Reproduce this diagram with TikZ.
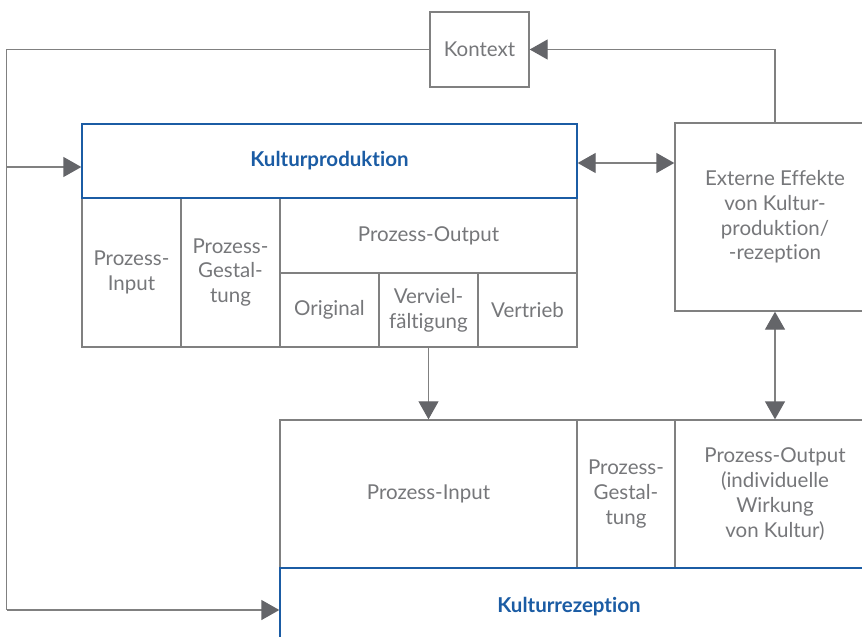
\documentclass[tikz,border=0pt]{standalone}
\usepackage{fontspec}
\setmainfont{Lato}[Ligatures={NoCommon}]
\usetikzlibrary{arrows.meta}
\definecolor{txtgrey}{HTML}{76777A}
\definecolor{linegrey}{HTML}{808080}
\definecolor{tipgrey}{HTML}{646569}
\definecolor{kblue}{HTML}{1B5CA4}
\begin{document}
\begin{tikzpicture}[x=1pt,y=-1pt,
  cell/.style={draw=linegrey, line width=1.4pt, rectangle, inner sep=0pt, align=center,
    text=txtgrey, font=\fontsize{20.5}{24.8}\selectfont},
  bluecell/.style={cell, draw=kblue, text=kblue, font=\fontsize{20.5}{24.8}\selectfont\bfseries},
  conn/.style={draw=linegrey, line width=1.4pt},
  arr/.style={-{Triangle[length=18pt,width=20pt,color=tipgrey]}},
  darr/.style={{Triangle[length=18pt,width=20pt,color=tipgrey]}-{Triangle[length=18pt,width=20pt,color=tipgrey]}}
]
\useasboundingbox (0,0) rectangle (862,637);
\clip (0,0) rectangle (862,637);
\fill[white] (0,0) rectangle (862,637);

% Kontext
\node[cell, minimum width=99pt, minimum height=75pt] (kontext) at (479.5,49.5) {Kontext};

% production table
\node[cell, minimum width=99pt, minimum height=149pt] (pin) at (131.5,272.5) {Prozess-\\Input};
\node[cell, minimum width=99pt, minimum height=149pt] (pgest) at (230.5,272.5) {Prozess-\\Gestal-\\tung};
\node[cell, minimum width=297pt, minimum height=75pt] (pout) at (428.5,235.5) {Prozess-Output};
\node[cell, minimum width=99pt, minimum height=74pt] (orig) at (329.5,310) {Original};
\node[cell, minimum width=99pt, minimum height=74pt] (verv) at (428.5,310) {Verviel-\\fältigung};
\node[cell, minimum width=99pt, minimum height=74pt] (vert) at (527.5,310) {Vertrieb};
\node[bluecell, minimum width=495pt, minimum height=74pt] (kprod) at (329.5,161) {Kulturproduktion};

% external effects
\node[cell, minimum width=200pt, minimum height=188pt] (ext) at (775,217) {Externe Effekte\\von Kultur-\\produktion/\\-rezeption};

% reception table
\node[cell, minimum width=297pt, minimum height=148pt] (rin) at (428.5,494) {Prozess-Input};
\node[cell, minimum width=98pt, minimum height=148pt] (rgest) at (626,494) {Prozess-\\Gestal-\\tung};
\node[cell, minimum width=200pt, minimum height=148pt] (rout) at (775,494) {Prozess-Output\\(individuelle\\Wirkung\\von Kultur)};
\node[bluecell, minimum width=620pt, minimum height=78pt] (krez) at (590,607) {Kulturrezeption\hspace*{42pt}};

% connectors
\coordinate (lt) at (6.5,49.5);
\coordinate (lm) at (6.5,167);
\coordinate (lb) at (6.5,610);
\draw[conn] (kontext.west) -- (lt) -- (lb);
\draw[conn,arr] (lb) -- (lb -| krez.west);
\draw[conn,arr] (lm) -- (lm -| kprod.west);
\draw[conn,arr] (ext.north) |- (kontext.east);
\draw[conn,darr] ([yshift=-2pt]kprod.east) -- ([yshift=-2pt]kprod.east -| ext.west);
\draw[conn,arr,line width=1pt] (verv.south) -- (verv.south |- rin.north);
\draw[conn,darr] (ext.south) -- (rout.north);
\end{tikzpicture}
\end{document}
